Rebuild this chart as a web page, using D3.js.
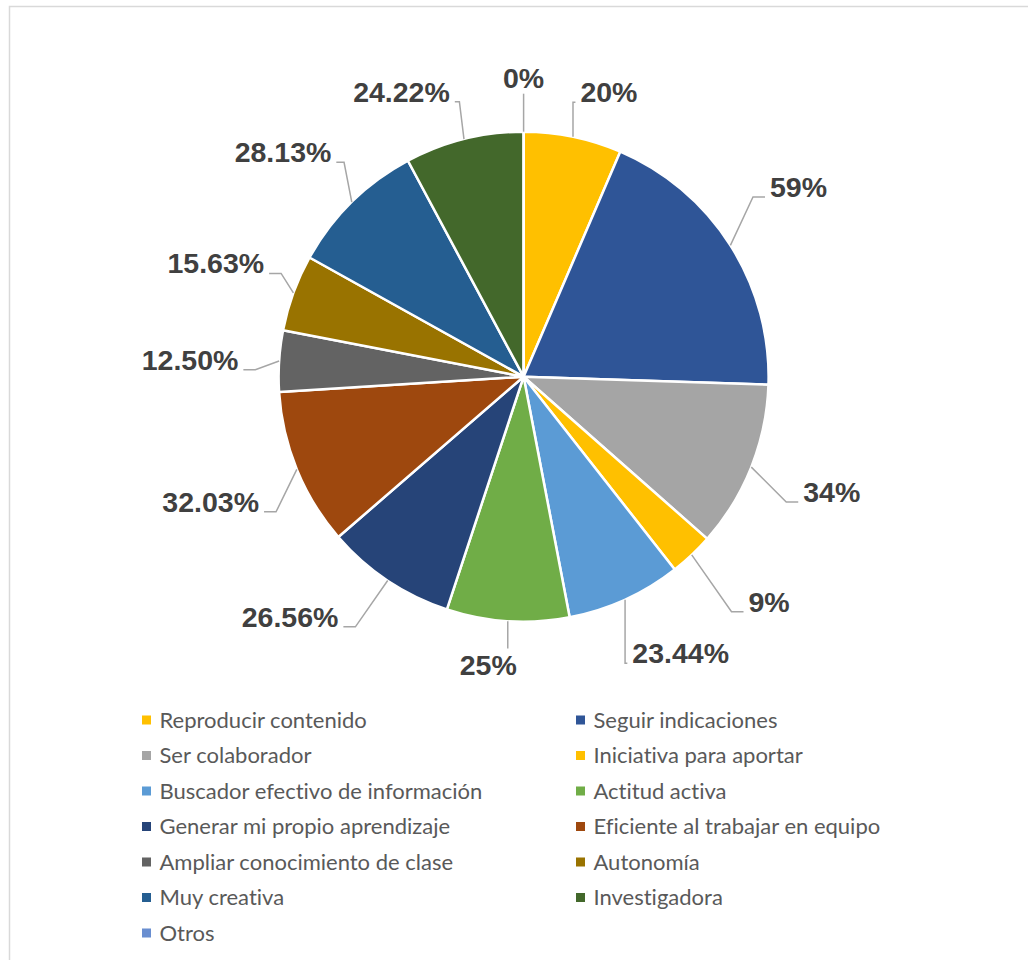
<!DOCTYPE html>
<html>
<head>
<meta charset="utf-8">
<script src="https://cdn.jsdelivr.net/npm/d3@7"></script>
<style>
    html, body { margin: 0; padding: 0; background: #fff; }
    #chart { width: 1028px; height: 960px; }
</style>
</head>
<body>
<div id="chart"></div>
<script>
//Datos del gráfico
const categorias = ['Reproducir contenido', 'Seguir indicaciones', 'Ser colaborador', 'Iniciativa para aportar',
    'Buscador efectivo de información', 'Actitud activa', 'Generar mi propio aprendizaje', 'Eficiente al trabajar en equipo',
    'Ampliar conocimiento de clase', 'Autonomía', 'Muy creativa', 'Investigadora', 'Otros'];
const valores = [20, 59, 34, 9, 23.44, 25, 26.56, 32.03, 12.50, 15.63, 28.13, 24.22, 0];
const etiquetas = ['20%', '59%', '34%', '9%', '23.44%', '25%', '26.56%', '32.03%', '12.50%', '15.63%', '28.13%', '24.22%', '0%'];

//Colores fijos
const colores = ['#FFC000', '#2F5597', '#A5A5A5', '#FFC000', '#5B9BD5', '#70AD47', '#264478',
    '#9E480E', '#636363', '#997300', '#255E91', '#43682B', '#698ED0'];

//Colocación de las etiquetas (ángulo en grados, distancia al centro)
const labelPos = [[16.7, 297], [55.4, 334], [110.5, 329], [132.5, 333], [150.4, 318], [187, 290],
    [224.2, 335], [248.2, 337], [272.9, 334], [290.2, 328], [313, 329], [336.8, 310], [0, 299]];

let cx = 523.6, cy = 376.7, radius = 245;

let svg = d3.select('#chart')
    .append('svg')
        .attr('width', 1028)
        .attr('height', 960);

//Marco
svg.append('rect')
    .attr('x', 9.5).attr('y', 6.5)
    .attr('width', 1040).attr('height', 980)
    .attr('fill', 'none')
    .attr('stroke', '#D9D9D9')
    .attr('stroke-width', 1.5);

let g = svg.append('g').attr('transform', 'translate(' + cx + ',' + cy + ')');

let pie = d3.pie().sort(null).value(function(d) { return d; });
let arcs = pie(valores);

let arc = d3.arc().innerRadius(0).outerRadius(radius);

g.selectAll('.slice')
    .data(arcs)
    .enter()
    .append('path')
    .attr('class', 'slice')
    .attr('d', arc)
    .attr('fill', function(d, i) { return colores[i]; })
    .attr('stroke', '#fff')
    .attr('stroke-width', 2.5)
    .attr('stroke-linejoin', 'round');

//Etiquetas
let toRad = Math.PI / 180;
let labels = g.selectAll('.lbl')
    .data(arcs)
    .enter()
    .append('text')
    .attr('class', 'lbl')
    .attr('text-anchor', 'middle')
    .style('font-family', '"Liberation Sans", Arial, sans-serif')
    .style('font-weight', 'bold')
    .style('font-size', '28.5px')
    .attr('fill', '#404040')
    .attr('x', function(d, i) { return labelPos[i][1] * Math.sin(labelPos[i][0] * toRad); })
    .attr('y', function(d, i) { return -labelPos[i][1] * Math.cos(labelPos[i][0] * toRad) + 10; })
    .text(function(d, i) { return etiquetas[i]; });

//Líneas guía
labels.each(function(d, i) {
    let bb = this.getBBox();
    let mid = (d.startAngle + d.endAngle) / 2;
    let px = radius * Math.sin(mid), py = -radius * Math.cos(mid);
    let base = +this.getAttribute('y');
    let left = bb.x, right = bb.x + bb.width;
    let top = base - 21;
    let pts;
    if (px < left - 2) {
        let ex = left - 5;
        let stub = Math.min(12, ex - px);
        pts = [[px, py], [ex - stub, base], [ex, base]];
    } else if (px > right + 2) {
        let ex = right + 5;
        let stub = Math.min(12, (px - ex) / 2);
        pts = [[px, py], [ex + stub, base], [ex, base]];
    } else if (base < py) {
        pts = [[px, py], [px, base + 6]];
    } else {
        pts = [[px, py], [px, top - 5]];
    }
    g.append('path')
        .attr('d', d3.line()(pts))
        .attr('fill', 'none')
        .attr('stroke', '#A6A6A6')
        .attr('stroke-width', 1.5);
});

//Leyenda
let legend = svg.append('g');
let items = legend.selectAll('.item')
    .data(categorias)
    .enter()
    .append('g')
    .attr('class', 'item')
    .attr('transform', function(d, i) {
        return 'translate(' + (i % 2 ? 576 : 142) + ',' + (720 + Math.floor(i / 2) * 35.5) + ')';
    });

items.append('rect')
    .attr('x', 0).attr('y', -4.5)
    .attr('width', 9).attr('height', 9)
    .attr('fill', function(d, i) { return colores[i]; });

items.append('text')
    .attr('x', 17.5)
    .attr('y', 7.5)
    .style('font-family', 'Lato, "Open Sans", sans-serif')
    .style('font-size', '22px')
    .style('font-variant-ligatures', 'none')
    .attr('fill', '#595959')
    .text(function(d) { return d; });
</script>
</body>
</html>
